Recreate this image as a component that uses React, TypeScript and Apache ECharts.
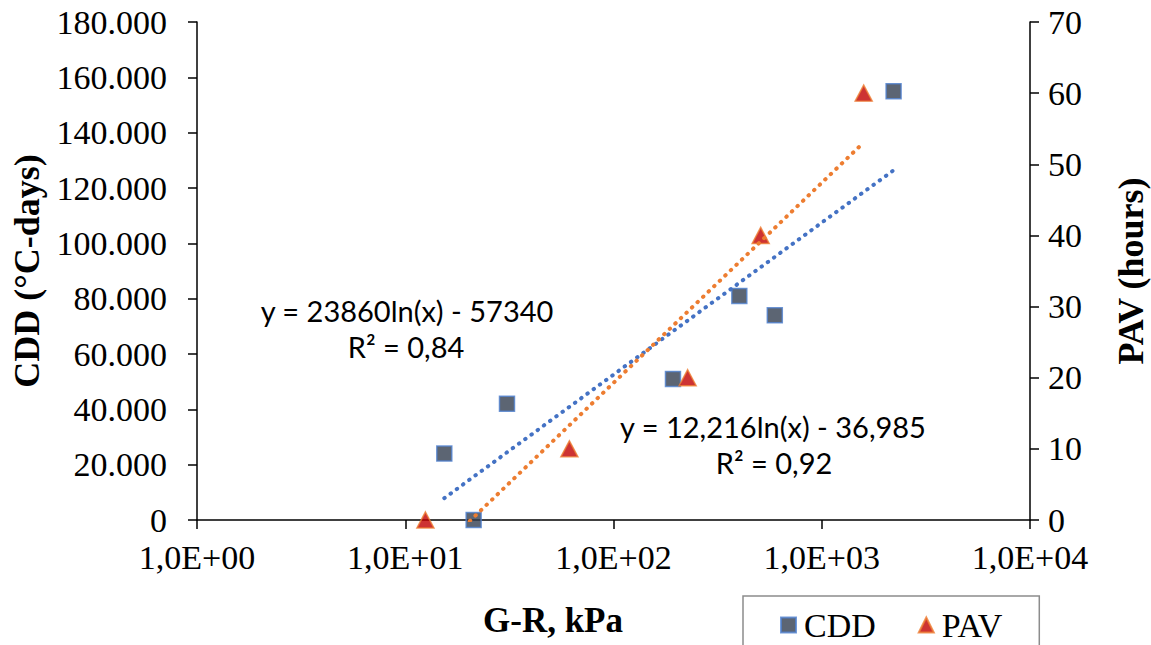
import React, { useEffect, useRef } from "react";
import * as echarts from "echarts";

// G-R (kPa) and CDD values
const cddX: number[] = [15.4, 21.3, 30.8, 193, 402, 595, 2213];
const cddY: number[] = [24000, 0, 42000, 51000, 81000, 74000, 155000];
// G-R (kPa) and PAV hours
const pavX: number[] = [12.5, 61.4, 227, 509, 1590];
const pavY: number[] = [0, 10, 20, 40, 60];

// Trendline coefficients shown on the chart: y = a ln(x) + b
const cddTrend = { a: 23860, b: -57340 };
const pavTrend = { a: 12.216, b: -36.985 };

const cddEqText = ["y = 23860ln(x) - 57340", "R² = 0,84"];
const pavEqText = ["y = 12,216ln(x) - 36,985", "R² = 0,92"];

const xTickLabels: string[] = ["1,0E+00", "1,0E+01", "1,0E+02", "1,0E+03", "1,0E+04"];

const trendPoints = (xs: number[], t: { a: number; b: number }) => {
  const lo = Math.min(...xs);
  const hi = Math.max(...xs);
  return [
    [lo, t.a * Math.log(lo) + t.b],
    [hi, t.a * Math.log(hi) + t.b],
  ];
};

const SERIF = "Liberation Serif";
const EQFONT = "Lato";

export default function App() {
  const ref = useRef<HTMLDivElement>(null);
  useEffect(() => {
    if (!ref.current) return;
    const chart = echarts.init(ref.current, undefined, { renderer: "svg" });
    const axisLine = { show: true, lineStyle: { color: "#000", width: 1.5 } };
    const axisTick = { show: true, inside: false, length: 9, lineStyle: { color: "#000", width: 1.5 } };
    const tickLabel = { fontFamily: SERIF, fontSize: 34, fontWeight: "normal", color: "#000" };
    const eqStyle = (text: string) => ({
      text,
      fontFamily: EQFONT,
      fontSize: 29,
      fill: "#000",
      textAlign: "center",
      textVerticalAlign: "middle",
    });
    chart.setOption({
      animation: false,
      backgroundColor: "#fff",
      textStyle: { fontFamily: SERIF, color: "#000" },
      grid: { left: 197, right: 121, top: 22, bottom: 125 },
      legend: {
        data: ["CDD", "PAV"],
        left: 743,
        top: 596,
        padding: [12, 37, 24, 37],
        itemWidth: 15,
        itemHeight: 15,
        itemGap: 42,
        borderColor: "#8c8c8c",
        borderWidth: 1.5,
        textStyle: { ...tickLabel, padding: [0, 0, 0, 3] },
      },
      xAxis: {
        type: "log",
        logBase: 10,
        min: 1,
        max: 10000,
        axisLine,
        axisTick,
        splitLine: { show: false },
        minorTick: { show: false },
        axisLabel: {
          ...tickLabel,
          margin: 20,
          formatter: (v: number) => xTickLabels[Math.round(Math.log10(v))] ?? "",
        },
      },
      yAxis: [
        {
          type: "value",
          min: 0,
          max: 180000,
          interval: 20000,
          position: "left",
          axisLine,
          axisTick,
          splitLine: { show: false },
          axisLabel: {
            ...tickLabel,
            margin: 30,
            formatter: (v: number) => (v === 0 ? "0" : `${v / 1000}.000`),
          },
        },
        {
          type: "value",
          min: 0,
          max: 70,
          interval: 10,
          position: "right",
          axisLine,
          axisTick,
          splitLine: { show: false },
          axisLabel: { ...tickLabel, margin: 18 },
        },
      ],
      series: [
        {
          name: "CDD",
          type: "scatter",
          yAxisIndex: 0,
          symbol: "rect",
          symbolSize: 15,
          itemStyle: { color: "#333F50", borderColor: "#4F81D0", borderWidth: 1.5 },
          data: cddX.map((x, i) => [x, cddY[i]]),
          z: 2,
        },
        {
          name: "PAV",
          type: "scatter",
          yAxisIndex: 1,
          symbol: "triangle",
          symbolSize: [17, 16],
          itemStyle: { color: "#C00000", borderColor: "#ED7D31", borderWidth: 1.5 },
          data: pavX.map((x, i) => [x, pavY[i]]),
          z: 2,
        },
        {
          name: "CDD trend",
          type: "line",
          yAxisIndex: 0,
          symbol: "none",
          silent: true,
          clip: true,
          z: 3,
          lineStyle: { color: "#4472C4", width: 4, type: [0.5, 7.2], cap: "round" },
          data: trendPoints(cddX, cddTrend),
        },
        {
          name: "PAV trend",
          type: "line",
          yAxisIndex: 1,
          symbol: "none",
          silent: true,
          clip: true,
          z: 3,
          lineStyle: { color: "#ED7D31", width: 4, type: [0.5, 7.2], cap: "round" },
          data: trendPoints(pavX, pavTrend),
        },
      ],
      graphic: [
        {
          type: "text",
          x: 27,
          y: 271,
          rotation: Math.PI / 2,
          style: { text: "CDD (°C-days)", fontFamily: SERIF, fontWeight: "bold", fontSize: 36, fill: "#000", textAlign: "center", textVerticalAlign: "middle" },
        },
        {
          type: "text",
          x: 1131,
          y: 271,
          rotation: Math.PI / 2,
          style: { text: "PAV (hours)", fontFamily: SERIF, fontWeight: "bold", fontSize: 36, fill: "#000", textAlign: "center", textVerticalAlign: "middle" },
        },
        {
          type: "text",
          x: 553,
          y: 620,
          style: { text: "G-R, kPa", fontFamily: SERIF, fontWeight: "bold", fontSize: 35, fill: "#000", textAlign: "center", textVerticalAlign: "middle" },
        },
        { type: "text", x: 407, y: 310, style: eqStyle(cddEqText[0]) },
        { type: "text", x: 406, y: 346, style: eqStyle(cddEqText[1]) },
        { type: "text", x: 773, y: 426, style: eqStyle(pavEqText[0]) },
        { type: "text", x: 774, y: 462, style: eqStyle(pavEqText[1]) },
      ],
    });
    return () => chart.dispose();
  }, []);
  return (
    <div
      ref={ref}
      style={{ position: "absolute", left: 0, top: 0, width: 1151, height: 645, background: "#fff" }}
    />
  );
}
